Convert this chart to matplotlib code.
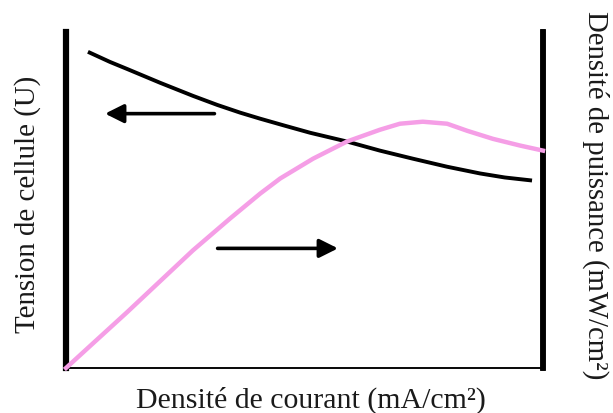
import numpy as np
import matplotlib.pyplot as plt

# courant (u.a.), tension (u.a.), puissance (u.a.)
i_tension = [4.6, 9.2, 12.8, 19.7, 26.6, 31.7, 36.5, 40.7, 45.9, 51.2, 58.9, 65.8, 72.7,
             79.9, 86.8, 92.0, 97.7]
tension = [0.941, 0.911, 0.890, 0.849, 0.810, 0.783, 0.760, 0.742, 0.721, 0.700, 0.674,
           0.647, 0.623, 0.599, 0.579, 0.567, 0.558]

i_puiss = [0.0, 5.7, 12.8, 19.7, 26.6, 34.4, 40.7, 44.9, 51.8, 58.9, 65.8, 70.0,
           74.8, 79.9, 84.1, 89.5, 95.2, 100.0]
puissance = [0.0, 7.4, 16.6, 25.8, 35.0, 44.5, 51.9, 56.4, 62.3, 67.4, 70.9, 72.7,
             73.3, 72.7, 70.6, 68.2, 66.2, 64.7]

plt.rcParams['font.family'] = ['Liberation Serif', 'DejaVu Serif']

fig = plt.figure(figsize=(6.13, 4.14), dpi=100)
ax = fig.add_axes([0.1077, 0.1087, 0.7781, 0.8116])
ax2 = ax.twinx()

ax.plot(i_tension, tension, color='black', lw=2.8, solid_capstyle='butt', solid_joinstyle='round')
ax2.plot(i_puiss, puissance, color='#f59ee6', lw=3.2, clip_on=False, zorder=5,
         solid_joinstyle='round')

ax.set_xlim(0, 100)
ax.set_ylim(0, 1)
ax2.set_ylim(0, 100)

for a in (ax, ax2):
    a.set_xticks([])
    a.set_yticks([])
    a.spines['top'].set_visible(False)
    a.spines['left'].set_linewidth(4.4)
    a.spines['right'].set_linewidth(4.0)
    a.spines['bottom'].set_linewidth(1.1)
    a.spines['left'].set_capstyle('projecting')

ax2.patch.set_visible(False)

# flèches
ax.annotate('', xy=(7.6, 0.757), xytext=(31.7, 0.757),
            arrowprops=dict(arrowstyle='-|>', color='black', lw=2.6, mutation_scale=28))
ax.annotate('', xy=(57.6, 0.356), xytext=(31.2, 0.356),
            arrowprops=dict(arrowstyle='-|>', color='black', lw=2.6, mutation_scale=28))

fig.text(0.045, 0.507, 'Tension de cellule (U)', rotation=90, ha='center', va='center',
         fontsize=20.8, color='#1a1a1a')
fig.text(0.507, 0.0145, 'Densité de courant (mA/cm²)', ha='center', va='baseline',
         fontsize=21.5, color='#1a1a1a')
fig.text(0.972, 0.529, 'Densité de puissance (mW/cm²)', rotation=-90, ha='center', va='center',
         fontsize=20.7, color='#1a1a1a')

plt.savefig('out.png', dpi=100)
